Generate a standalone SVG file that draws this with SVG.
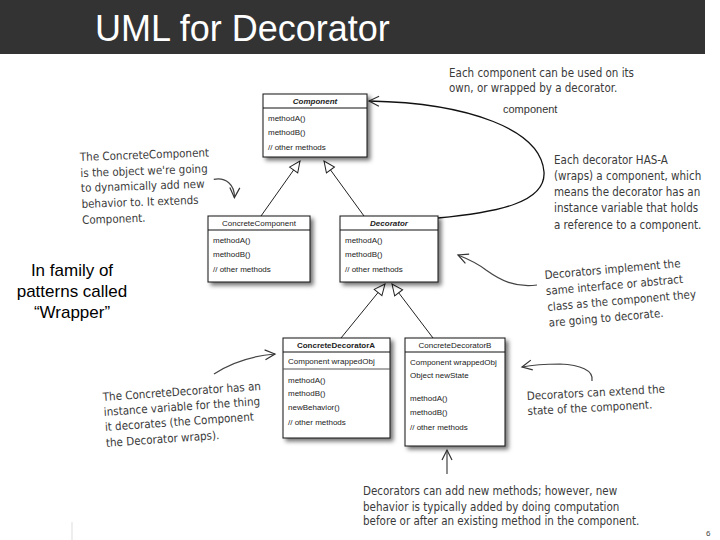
<svg xmlns="http://www.w3.org/2000/svg" width="720" height="540" viewBox="0 0 720 540">
<style>
.box{fill:#fff;stroke:#111;stroke-width:1}
.uml{font-family:"Liberation Sans",Arial,sans-serif;font-size:8px;fill:#222}
.ttl{font-weight:bold}
.it{font-style:italic;font-weight:bold}
.note{font-family:"DejaVu Sans Condensed","Liberation Sans",sans-serif;font-size:11.5px;fill:#3a3a3a}
.gen{stroke:#222;stroke-width:1;fill:none}
.hand{stroke:#444;stroke-width:1.2;fill:none}
</style>
<defs>
<filter id="sh" x="-10%" y="-10%" width="130%" height="130%">
<feDropShadow dx="3" dy="3" stdDeviation="2" flood-color="#000" flood-opacity="0.55"/>
</filter>
<marker id="tri" markerWidth="14" markerHeight="14" refX="12" refY="6" orient="auto" markerUnits="userSpaceOnUse">
<path d="M1,1 L12,6 L1,11 Z" fill="#fff" stroke="#222" stroke-width="1"/>
</marker>
<marker id="open" markerWidth="14" markerHeight="14" refX="11" refY="6" orient="auto" markerUnits="userSpaceOnUse">
<path d="M1,1 L11,6 L1,11" fill="none" stroke="#333" stroke-width="1.2"/>
</marker>
</defs>
<rect width="720" height="540" fill="#fff"/>
<g id="title">
<rect x="0" y="0" width="705" height="54" fill="#333"/>
<text x="95" y="41" font-family="Liberation Sans,Arial,sans-serif" font-size="36" fill="#fff">UML for Decorator</text>
</g>

<g id="connectors">
<path class="gen" d="M261,216 L300,161" marker-end="url(#tri)"/>
<path class="gen" d="M364,216 L324,161" marker-end="url(#tri)"/>
<path class="gen" d="M341,338 L385,284" marker-end="url(#tri)"/>
<path class="gen" d="M433,338 L392,284" marker-end="url(#tri)"/>
<path d="M438,218 C500,212 546,202 544,172 C541,130 470,103 369,101" fill="none" stroke="#111" stroke-width="1.3" marker-end="url(#open)"/>
<text x="503" y="113" style="font-family:'Liberation Sans',Arial,sans-serif;font-size:11px;fill:#333">component</text>
</g>

<g id="Component">
<rect class="box" x="263" y="94" width="104" height="63" filter="url(#sh)"/>
<line x1="263" y1="108" x2="367" y2="108" stroke="#111"/>
<text class="uml it" x="315" y="104" text-anchor="middle">Component</text>
<text class="uml" x="268" y="121">methodA()</text>
<text class="uml" x="268" y="135">methodB()</text>
<text class="uml" x="268" y="150">// other methods</text>
</g>

<g id="ConcreteComponent">
<rect class="box" x="208" y="216" width="102" height="66" filter="url(#sh)"/>
<line x1="208" y1="230" x2="310" y2="230" stroke="#111"/>
<text class="uml" x="259" y="226" text-anchor="middle">ConcreteComponent</text>
<text class="uml" x="213" y="243">methodA()</text>
<text class="uml" x="213" y="257">methodB()</text>
<text class="uml" x="213" y="272">// other methods</text>
</g>

<g id="Decorator">
<rect class="box" x="340" y="216" width="98" height="66" filter="url(#sh)"/>
<line x1="340" y1="230" x2="438" y2="230" stroke="#111"/>
<text class="uml it" x="389" y="226" text-anchor="middle">Decorator</text>
<text class="uml" x="345" y="243">methodA()</text>
<text class="uml" x="345" y="257">methodB()</text>
<text class="uml" x="345" y="272">// other methods</text>
</g>

<g id="ConcreteDecoratorA">
<rect class="box" x="283" y="338" width="107" height="100" filter="url(#sh)"/>
<line x1="283" y1="352" x2="390" y2="352" stroke="#111"/>
<line x1="283" y1="369" x2="390" y2="369" stroke="#555"/>
<text class="uml ttl" x="336" y="348" text-anchor="middle">ConcreteDecoratorA</text>
<text class="uml" x="288" y="364">Component wrappedObj</text>
<text class="uml" x="288" y="383">methodA()</text>
<text class="uml" x="288" y="396">methodB()</text>
<text class="uml" x="288" y="410">newBehavior()</text>
<text class="uml" x="288" y="425">// other methods</text>
</g>

<g id="ConcreteDecoratorB">
<rect class="box" x="405" y="338" width="100" height="108" filter="url(#sh)"/>
<line x1="405" y1="352" x2="505" y2="352" stroke="#111"/>
<text class="uml" x="455" y="348" text-anchor="middle">ConcreteDecoratorB</text>
<text class="uml" x="410" y="365">Component wrappedObj</text>
<text class="uml" x="410" y="378">Object newState</text>
<text class="uml" x="410" y="401">methodA()</text>
<text class="uml" x="410" y="415">methodB()</text>
<text class="uml" x="410" y="430">// other methods</text>
</g>

<g id="note-each-component">
<text class="note" x="449" y="77">Each component can be used on its</text>
<text class="note" x="449" y="92">own, or wrapped by a decorator.</text>
</g>

<g id="note-has-a">
<text class="note" x="554" y="164">Each decorator HAS-A</text>
<text class="note" x="554" y="180">(wraps) a component, which</text>
<text class="note" x="554" y="196">means the decorator has an</text>
<text class="note" x="554" y="212">instance variable that holds</text>
<text class="note" x="554" y="229">a reference to a component.</text>
</g>

<g id="note-concrete-component" transform="rotate(-2 80 160)">
<text class="note" x="80" y="161">The ConcreteComponent</text>
<text class="note" x="80" y="177">is the object we're going</text>
<text class="note" x="80" y="192">to dynamically add new</text>
<text class="note" x="80" y="208">behavior to. It extends</text>
<text class="note" x="80" y="224">Component.</text>
<path class="hand" d="M213,184 C225,182 234,190 233,203" marker-end="url(#open)"/>
</g>

<g id="note-implement" transform="rotate(-5 545 280)">
<text class="note" x="545" y="279">Decorators implement the</text>
<text class="note" x="545" y="295">same interface or abstract</text>
<text class="note" x="545" y="311">class as the component they</text>
<text class="note" x="545" y="327">are going to decorate.</text>
</g>
<path class="hand" d="M537,285 C515,288 500,280 486,270 C477,263 468,259 458,255" marker-end="url(#open)"/>

<g id="note-extend-state" transform="rotate(-3 527 400)">
<text class="note" x="527" y="400">Decorators can extend the</text>
<text class="note" x="527" y="415">state of the component.</text>
</g>
<path class="hand" d="M592,381 C594,370 580,365 560,364 C545,364 532,365 522,367" marker-end="url(#open)"/>

<g id="note-concrete-decorator" transform="rotate(-4 103 400)">
<text class="note" x="103" y="401">The ConcreteDecorator has an</text>
<text class="note" x="103" y="416">instance variable for the thing</text>
<text class="note" x="103" y="431">it decorates (the Component</text>
<text class="note" x="103" y="447">the Decorator wraps).</text>
</g>
<path class="hand" d="M214,374 C232,362 252,356 275,354" marker-end="url(#open)"/>

<g id="note-new-methods">
<text class="note" x="363" y="495">Decorators can add new methods; however, new</text>
<text class="note" x="363" y="511">behavior is typically added by doing computation</text>
<text class="note" x="363" y="525">before or after an existing method in the component.</text>
<path class="hand" d="M447,474 L447,450" marker-end="url(#open)"/>
</g>

<g id="wrapper-label" font-family="Liberation Sans,Arial,sans-serif" font-size="17" fill="#000" text-anchor="middle">
<text x="72" y="276">In family of</text>
<text x="72" y="297">patterns called</text>
<text x="72" y="318">“Wrapper”</text>
</g>

<line x1="72" y1="522" x2="72" y2="540" stroke="#ddd" stroke-width="1"/>
<text x="706" y="536" font-family="Liberation Sans,Arial,sans-serif" font-size="8" fill="#444">6</text>
</svg>
